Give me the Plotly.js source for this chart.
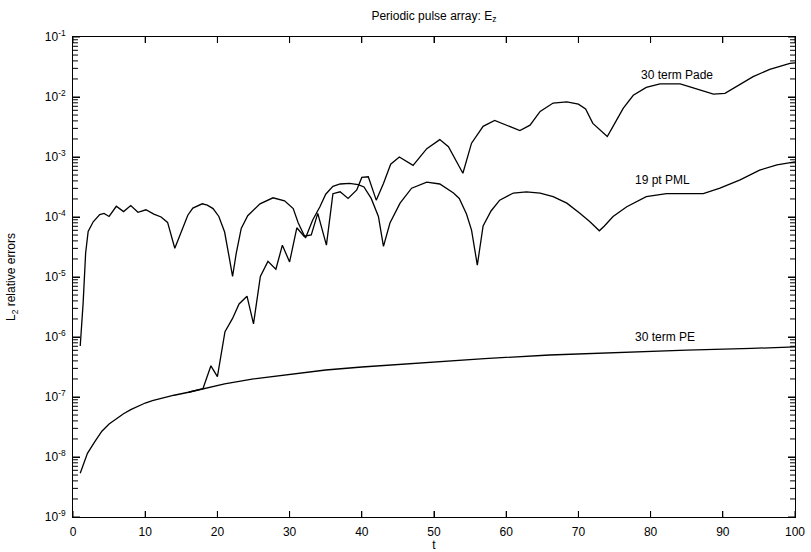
<!DOCTYPE html>
<html>
<head>
<meta charset="utf-8">
<script src="https://cdn.plot.ly/plotly-3.0.1.min.js"></script>
<style>
html, body { margin: 0; padding: 0; background: #fff; }
#chart { width: 811px; height: 552px; }
</style>
</head>
<body>
<div id="chart"></div>
<script>
// 30 term PE
const peT = [1, 2, 3, 4, 5, 6, 7, 8, 9, 10, 11, 12.5, 14, 16, 18, 21, 25, 30, 35, 40, 45, 50, 57, 66, 75, 85, 94, 100];
const peV = [5.37e-9, 1.15e-8, 1.78e-8, 2.69e-8, 3.55e-8, 4.37e-8, 5.25e-8, 6.17e-8, 7.08e-8, 7.94e-8, 8.71e-8, 9.77e-8, 1.07e-7, 1.20e-7, 1.38e-7, 1.66e-7, 2.00e-7, 2.40e-7, 2.82e-7, 3.16e-7, 3.47e-7, 3.80e-7, 4.37e-7, 5.01e-7, 5.50e-7, 6.03e-7, 6.46e-7, 6.84e-7];

// 19 pt PML
const pmlT = [1.0, 1.4, 1.75, 2.1, 2.8, 3.7, 4.3, 5.0, 6.0, 7.0, 8.0, 9.0, 10.1, 11.2, 12.2, 13.1, 14.1, 15.0, 15.9, 16.6, 17.9, 18.6, 19.4, 20.2, 21.0, 21.6, 22.1, 22.6, 23.3, 24.2, 25.9, 27.7, 29.3, 30.5, 31.2, 32.2, 33.2, 34.2, 35.0, 36.0, 37.0, 38.3, 39.5, 40.3, 41.3, 42.3, 43.0, 43.9, 45.3, 46.9, 49.0, 50.8, 52.7, 53.5, 54.5, 55.2, 56.0, 56.8, 57.9, 59.1, 61.0, 62.8, 64.7, 66.5, 68.4, 70.2, 71.6, 72.9, 73.6, 74.8, 76.7, 79.4, 82.2, 87.3, 89.6, 92.4, 95.1, 97.5, 99.3, 100];
const pmlV = [7.08e-7, 3.63e-6, 2.51e-5, 5.75e-5, 8.32e-5, 1.10e-4, 1.15e-4, 1.02e-4, 1.51e-4, 1.23e-4, 1.55e-4, 1.20e-4, 1.32e-4, 1.12e-4, 1.00e-4, 8.13e-5, 3.02e-5, 5.75e-5, 1.07e-4, 1.41e-4, 1.66e-4, 1.58e-4, 1.38e-4, 1.02e-4, 5.62e-5, 2.24e-5, 1.02e-5, 2.45e-5, 6.46e-5, 1.05e-4, 1.66e-4, 2.09e-4, 1.86e-4, 1.38e-4, 7.94e-5, 4.47e-5, 8.91e-5, 1.48e-4, 2.40e-4, 3.24e-4, 3.55e-4, 3.63e-4, 3.47e-4, 3.16e-4, 2.04e-4, 1.02e-4, 3.24e-5, 7.94e-5, 1.70e-4, 3.02e-4, 3.80e-4, 3.55e-4, 2.51e-4, 2.04e-4, 1.12e-4, 6.03e-5, 1.58e-5, 7.08e-5, 1.26e-4, 1.91e-4, 2.51e-4, 2.63e-4, 2.51e-4, 2.19e-4, 1.70e-4, 1.15e-4, 8.32e-5, 5.89e-5, 7.08e-5, 1.02e-4, 1.48e-4, 2.19e-4, 2.45e-4, 2.45e-4, 3.02e-4, 4.17e-4, 6.03e-4, 7.41e-4, 8.13e-4, 8.32e-4];

// 30 term Pade
const padeT = [16.0, 18.0, 19.1, 20.0, 21.05, 22.1, 23.0, 24.1, 25.0, 25.95, 27.0, 28.1, 29.0, 30.0, 31.0, 32.0, 33.0, 33.9, 35.1, 36.0, 37.0, 38.1, 39.3, 40.0, 40.9, 42.0, 43.0, 44.0, 45.2, 47.1, 49.0, 50.8, 52.0, 53.1, 54.0, 55.2, 56.8, 58.4, 60.0, 61.9, 63.3, 64.7, 66.5, 68.4, 70.0, 71.0, 72.0, 73.0, 74.0, 74.8, 76.2, 77.6, 79.4, 81.3, 84.1, 86.8, 88.7, 90.3, 91.9, 94.2, 96.5, 99.3, 100];
const padeV = [1.20e-7, 1.38e-7, 3.31e-7, 2.19e-7, 1.23e-6, 2.04e-6, 3.55e-6, 4.79e-6, 1.66e-6, 1.02e-5, 1.82e-5, 1.35e-5, 3.39e-5, 1.78e-5, 6.61e-5, 4.79e-5, 5.01e-5, 1.15e-4, 3.39e-5, 2.45e-4, 2.63e-4, 2.04e-4, 2.82e-4, 4.57e-4, 4.68e-4, 1.91e-4, 3.63e-4, 7.59e-4, 1.00e-3, 7.24e-4, 1.38e-3, 1.95e-3, 1.48e-3, 8.32e-4, 5.37e-4, 1.70e-3, 3.24e-3, 4.07e-3, 3.39e-3, 2.75e-3, 3.39e-3, 5.75e-3, 7.94e-3, 8.32e-3, 7.59e-3, 6.31e-3, 3.63e-3, 2.82e-3, 2.19e-3, 3.24e-3, 6.46e-3, 1.07e-2, 1.45e-2, 1.66e-2, 1.66e-2, 1.32e-2, 1.12e-2, 1.15e-2, 1.48e-2, 2.19e-2, 2.88e-2, 3.63e-2, 3.72e-2];

const yTickVals = [1e-9, 1e-8, 1e-7, 1e-6, 1e-5, 1e-4, 1e-3, 1e-2, 1e-1];
const yTickText = ['10<sup>-9</sup>', '10<sup>-8</sup>', '10<sup>-7</sup>', '10<sup>-6</sup>', '10<sup>-5</sup>', '10<sup>-4</sup>', '10<sup>-3</sup>', '10<sup>-2</sup>', '10<sup>-1</sup>'];
const xTickVals = [0, 10, 20, 30, 40, 50, 60, 70, 80, 90, 100];

const labelPade = '30 term Pade';
const labelPML = '19 pt PML';
const labelPE = '30 term PE';

// Tick marks (inside, mirrored) built from the tick arrays as one segmented line trace
const X_MIN = 0, X_MAX = 100, Y_MIN = 1e-9, Y_MAX = 1e-1;
const xTickLenDec = 0.1;   // ~6 px in decades
const yMajorLen = 0.97;    // ~7 px in t units
const yMinorLen = 0.69;    // ~5 px in t units
const tickX = [], tickY = [];
function seg(x0, y0, x1, y1) { tickX.push(x0, x1, null); tickY.push(y0, y1, null); }
xTickVals.forEach(function (t) {
  seg(t, Y_MIN, t, Y_MIN * Math.pow(10, xTickLenDec));
  seg(t, Y_MAX / Math.pow(10, xTickLenDec), t, Y_MAX);
});
yTickVals.forEach(function (v) {
  seg(X_MIN, v, X_MIN + yMajorLen, v);
  seg(X_MAX - yMajorLen, v, X_MAX, v);
});
yTickVals.slice(0, -1).forEach(function (v) {
  for (let m = 2; m <= 9; m++) {
    seg(X_MIN, m * v, X_MIN + yMinorLen, m * v);
    seg(X_MAX - yMinorLen, m * v, X_MAX, m * v);
  }
});

const lineStyle = {color: '#000', width: 1.3};
const traces = [
  {x: tickX, y: tickY, type: 'scatter', mode: 'lines', line: {color: '#000', width: 1}, hoverinfo: 'skip', connectgaps: false, name: 'ticks'},
  {x: padeT, y: padeV, type: 'scatter', mode: 'lines', line: lineStyle, name: labelPade},
  {x: pmlT, y: pmlV, type: 'scatter', mode: 'lines', line: lineStyle, name: labelPML},
  {x: peT, y: peV, type: 'scatter', mode: 'lines', line: lineStyle, name: labelPE}
];

const fnt = {family: 'Liberation Sans, Arial, Helvetica, sans-serif', size: 12, color: '#000'};

const layout = {
  width: 811, height: 552,
  margin: {l: 73, r: 16, t: 37, b: 35, pad: 0},
  paper_bgcolor: '#fff', plot_bgcolor: '#fff',
  showlegend: false,
  font: fnt,
  title: {text: 'Periodic pulse array: E<sub>z</sub>', font: fnt, x: 0.535, xref: 'container', y: 0.972, yref: 'container', xanchor: 'center', yanchor: 'middle'},
  xaxis: {
    range: [X_MIN, X_MAX], tickvals: xTickVals, showgrid: false, zeroline: false,
    showline: true, linecolor: '#000', linewidth: 1, mirror: 'ticks',
    ticks: 'inside', ticklen: 6, tickcolor: '#000', tickwidth: 1,
    tickfont: fnt, ticklabelstandoff: 4,
    title: {text: 't', font: fnt, standoff: 5}
  },
  yaxis: {
    type: 'log', range: [-9, -1], tickvals: yTickVals, ticktext: yTickText,
    showgrid: false, zeroline: false,
    showline: true, linecolor: '#000', linewidth: 1, mirror: 'ticks',
    ticks: 'inside', ticklen: 7, tickcolor: '#000', tickwidth: 1,
    tickfont: fnt, ticklabelstandoff: 4,
    title: {text: 'L<sub>2</sub> relative errors', font: fnt, standoff: 26}
  },
  annotations: [
    {x: 83.6, y: -1.63, xref: 'x', yref: 'y', text: labelPade, showarrow: false, font: fnt, xanchor: 'center', yanchor: 'middle'},
    {x: 81.7, y: -3.38, xref: 'x', yref: 'y', text: labelPML, showarrow: false, font: fnt, xanchor: 'center', yanchor: 'middle'},
    {x: 82.0, y: -6.0, xref: 'x', yref: 'y', text: labelPE, showarrow: false, font: fnt, xanchor: 'center', yanchor: 'middle'}
  ]
};

Plotly.newPlot('chart', traces, layout, {displayModeBar: false});
</script>
</body>
</html>
